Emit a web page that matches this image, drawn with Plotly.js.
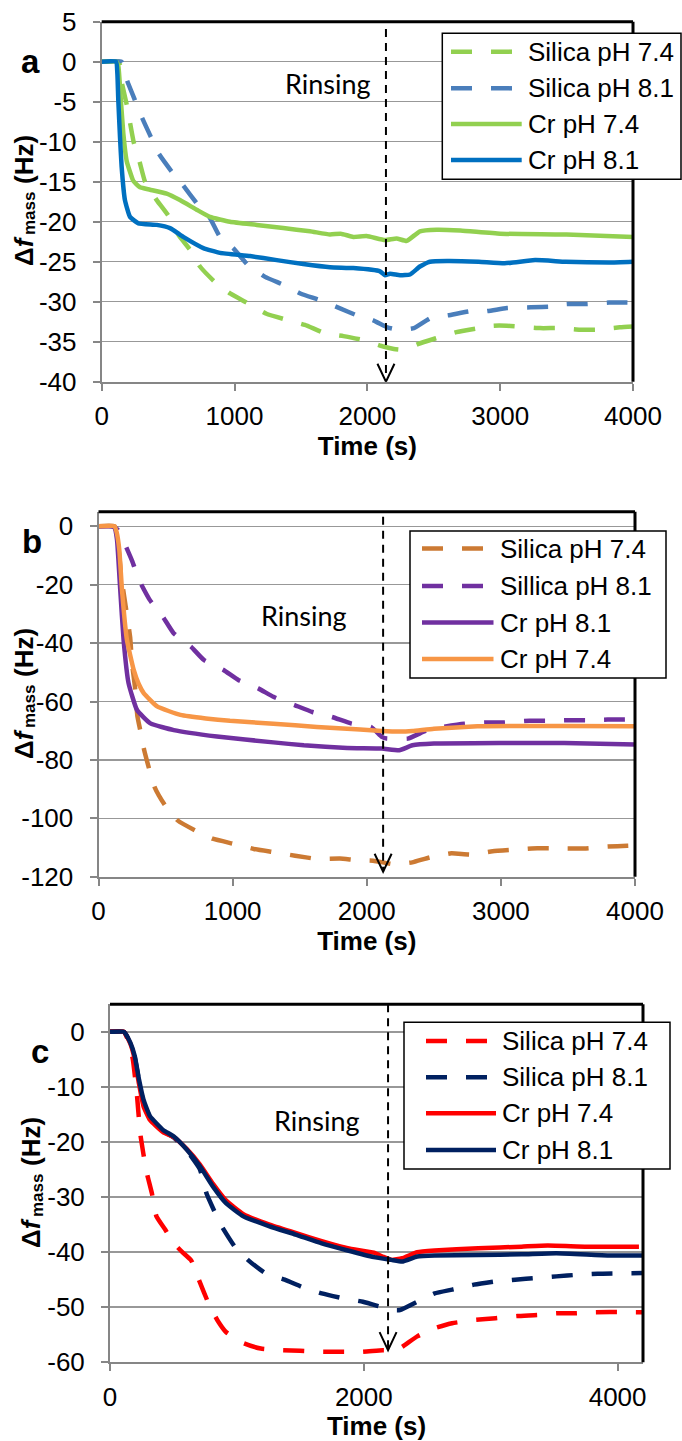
<!DOCTYPE html>
<html><head><meta charset="utf-8">
<script src="https://cdn.plot.ly/plotly-3.0.1.min.js"></script>
<style>html,body{margin:0;padding:0;background:#fff}#chart{width:682px;height:1441px}</style>
</head><body><div id="chart"></div>
<script>
// ---------- Panel a ----------
const aSilica74X = [0,130,150,190,240,285,326,370,414,500,580,665,740,850,970,1100,1240,1400,1530,1690,1820,1970,2120,2200,2280,2380,2510,2670,2840,2950,3050,3300,3450,3600,3720,3900,4000];
const aSilica74Y = [0,0,-2.5,-5.5,-10,-12.5,-15,-16.2,-17.3,-19.2,-21.7,-23.5,-25.6,-27.5,-29.0,-30.2,-31.5,-32.3,-32.9,-34.0,-34.3,-34.8,-35.6,-35.9,-36.0,-35.3,-34.6,-33.8,-33.3,-33.0,-33.0,-33.3,-33.3,-33.5,-33.5,-33.2,-33.1];
const aSilica81X = [0,150,190,250,290,370,430,530,610,730,810,890,990,1100,1230,1370,1500,1640,1790,1920,2040,2150,2200,2260,2350,2480,2610,2770,2890,3050,3230,3400,3500,3650,3820,4000];
const aSilica81Y = [0,0,-2.3,-4.8,-6.5,-9.4,-11.5,-13.8,-15.4,-18,-19.4,-21.9,-23.3,-25.4,-26.9,-27.9,-29,-29.8,-30.8,-31.7,-32.3,-33.2,-33.4,-33.5,-33.3,-32,-31.7,-31.2,-31.2,-30.8,-30.7,-30.6,-30.3,-30.3,-30.1,-30.1];
const aCr74X = [0,110,125,145,163,188,238,288,364,489,589,715,815,966,1167,1367,1568,1719,1800,1894,1994,2133,2220,2296,2396,2521,2700,3000,3500,4000];
const aCr74Y = [0,0,-0.5,-5,-9,-12.4,-14.9,-15.7,-16.0,-16.5,-17.3,-18.5,-19.4,-20.0,-20.4,-20.8,-21.2,-21.6,-21.5,-21.9,-21.8,-22.3,-22.1,-22.4,-21.2,-21.0,-21.1,-21.5,-21.6,-21.9];
const aCr81X = [0,108,118,125,138,150,175,213,276,414,514,614,765,891,1117,1318,1518,1719,1894,2095,2133,2171,2246,2321,2396,2471,2600,2838,3034,3263,3492,3820,4000];
const aCr81Y = [0,0,-1.5,-4.8,-9.5,-13.1,-17.3,-19.4,-20.2,-20.4,-20.8,-21.9,-23.3,-23.9,-24.3,-24.8,-25.3,-25.7,-25.8,-26.2,-26.7,-26.5,-26.7,-26.6,-25.6,-25.0,-24.9,-25.0,-25.2,-24.8,-25.0,-25.1,-25.0];
const aNames = ['Silica pH 7.4','Silica pH 8.1','Cr pH 7.4','Cr pH 8.1'];
const aYTicks = [5,0,-5,-10,-15,-20,-25,-30,-35,-40];
const aXTicks = [0,1000,2000,3000,4000];

// ---------- Panel b ----------
const bSilica74X = [0,120,172,236,250,272,290,312,340,380,420,495,592,722,851,1013,1158,1304,1466,1628,1800,1919,2048,2194,2250,2340,2469,2631,2776,2938,3084,3230,3375,3634,3796,3942,4000];
const bSilica74Y = [0,0,-18,-38,-47,-55,-65,-70,-76.5,-83.5,-89.5,-95.5,-100.8,-104.2,-107,-108.8,-110.5,-111.6,-112.8,-113.9,-113.8,-114.3,-114.5,-115.7,-115.6,-115.1,-113.4,-112,-112.4,-111.3,-110.8,-110.3,-110.3,-110.3,-109.7,-109.4,-109.3];
const bSilica81X = [0,100,140,188,252,301,382,479,560,689,786,932,1045,1191,1304,1466,1595,1741,1887,2032,2113,2150,2210,2307,2453,2566,2728,2890,3019,3213,3343,3505,3634,3796,4000];
const bSilica81Y = [0,0,-1,-5.2,-12,-18.3,-25.2,-30.9,-36.6,-41.2,-45.8,-49.2,-52.7,-55.5,-58.4,-61.3,-63.6,-65.3,-67.6,-68.7,-72.1,-72.7,-72.7,-72.7,-69.8,-68.7,-67.6,-67.2,-67.2,-66.6,-66.6,-66.4,-66.4,-66.2,-66.1];
const bCr81X = [0,100,120,138,162,187,224,287,387,561,883,1304,1531,1854,2113,2243,2340,2501,2987,3472,4000];
const bCr81Y = [0,0,-0.5,-4.6,-21.7,-38.9,-53.7,-62.9,-67.5,-69.8,-72.0,-74.0,-75,-75.9,-76.1,-76.7,-75,-74.4,-74.2,-74.2,-74.7];
const bCr74X = [0,120,135,155,175,212,262,300,337,437,611,800,980,1304,1628,1951,2113,2250,2340,2501,2825,3149,3472,4000];
const bCr74Y = [0,0,-2,-8,-21.7,-38.9,-49.1,-54,-57.1,-61.7,-64.6,-65.8,-66.6,-67.6,-68.7,-69.6,-70.1,-70.3,-70.1,-69.3,-68.5,-68.4,-68.4,-68.5];
const bNames = ['Silica pH 7.4','Sillica pH 8.1','Cr pH 8.1','Cr pH 7.4'];
const bYTicks = [0,-20,-40,-60,-80,-100,-120];
const bXTicks = [0,1000,2000,3000,4000];

// ---------- Panel c ----------
const cSilica74X = [0,110,150,180,211,238,262,290,330,366,435,503,570,640,700,780,850,914,1051,1188,1360,1497,1668,1839,1976,2148,2250,2302,2421,2558,2696,2884,3038,3209,3380,3517,3654,3826,4200];
const cSilica74Y = [0,0,-2,-5,-11.1,-18.4,-22,-25.6,-29.3,-33.5,-35.9,-38.4,-40,-41.5,-45,-49.5,-52.5,-54.5,-56.5,-57.5,-57.8,-57.9,-58.1,-58.1,-58.1,-57.8,-57.8,-57.2,-55.3,-53.8,-52.9,-52.3,-52.0,-51.6,-51.4,-51.1,-51.1,-50.9,-50.9];
const cSilica81X = [0,110,161,195,229,264,315,418,503,606,709,760,829,880,983,1086,1223,1377,1531,1668,1839,1993,2130,2220,2285,2421,2558,2696,2867,3038,3192,3363,3517,3689,3843,4200];
const cSilica81Y = [0,0,-2,-4.6,-9,-12.8,-15.5,-18,-19.2,-21.6,-25,-29.3,-32.9,-35.3,-39,-41.4,-43.8,-45,-46.5,-47.5,-48.4,-49,-49.9,-50.5,-50.5,-49,-47.5,-46.8,-45.9,-45.3,-45,-44.7,-44.4,-44.1,-43.9,-43.8];
const cCr74X = [0,110,161,195,229,264,315,418,503,606,709,812,914,1051,1257,1462,1668,1873,2079,2148,2216,2302,2421,2558,2901,3243,3449,3757,4168];
const cCr74Y = [0,0,-2.2,-5,-9.5,-13.5,-16,-18.2,-19.1,-21.3,-24.1,-27.6,-30.6,-33.1,-35,-36.5,-38,-39.3,-40.1,-40.8,-41.4,-41.1,-40,-39.7,-39.3,-39,-38.8,-39,-39];
const cCr81X = [0,110,161,195,229,264,315,418,503,606,709,812,914,1051,1257,1462,1668,1873,2079,2216,2302,2421,2558,2901,3243,3517,3928,4200];
const cCr81Y = [0,0,-2,-4.4,-8.7,-12.3,-15.3,-17.8,-19,-21.4,-24.4,-28.1,-31.1,-33.5,-35.3,-36.8,-38.4,-39.7,-40.9,-41.4,-41.7,-40.8,-40.6,-40.5,-40.4,-40.2,-40.6,-40.6];
const cNames = ['Silica pH 7.4','Silica pH 8.1','Cr pH 7.4','Cr pH 8.1'];
const cYTicks = [0,-10,-20,-30,-40,-50,-60];
const cXTicks = [0,2000,4000];

const panelLetters = ['a','b','c'];
const rinseTimes = [2140, 2122, 2191];
const rinseLabel = 'Rinsing';
const xTitle = 'Time (s)';
const yTitleParts = ['Δ<i>f</i>', 'mass', '(Hz)'];

// ---------- styling ----------
const W = 682, H = 1441;
const FONT = 'Liberation Sans, Arial, sans-serif';
const px = v => v / W, py = v => 1 - v / H;
const DASH = '21px,19px';

const colA = ['#92D050', '#4A7EBB', '#92D050', '#0070C0'];
const colB = ['#CC7A33', '#7030A0', '#7030A0', '#F79646'];
const colC = ['#FF0000', '#002060', '#FF0000', '#002060'];
const dashes = [true, true, false, false];

function tr(x, y, color, dashed, n, name) {
  return {x: x, y: y, type: 'scatter', mode: 'lines', name: name, showlegend: false,
    xaxis: 'x' + (n === 1 ? '' : n), yaxis: 'y' + (n === 1 ? '' : n), hoverinfo: 'skip',
    line: {color: color, width: 4.5, dash: dashed ? DASH : 'solid', shape: 'spline', smoothing: 0.4}};
}
const data = [
  tr(aSilica74X, aSilica74Y, colA[0], true, 1, aNames[0]),
  tr(aSilica81X, aSilica81Y, colA[1], true, 1, aNames[1]),
  tr(aCr74X, aCr74Y, colA[2], false, 1, aNames[2]),
  tr(aCr81X, aCr81Y, colA[3], false, 1, aNames[3]),
  tr(bSilica74X, bSilica74Y, colB[0], true, 2, bNames[0]),
  tr(bSilica81X, bSilica81Y, colB[1], true, 2, bNames[1]),
  tr(bCr81X, bCr81Y, colB[2], false, 2, bNames[2]),
  tr(bCr74X, bCr74Y, colB[3], false, 2, bNames[3]),
  tr(cSilica74X, cSilica74Y, colC[0], true, 3, cNames[0]),
  tr(cSilica81X, cSilica81Y, colC[1], true, 3, cNames[1]),
  tr(cCr74X, cCr74Y, colC[2], false, 3, cNames[2]),
  tr(cCr81X, cCr81Y, colC[3], false, 3, cNames[3])
];

// pixel geometry of the three plot areas [left, right, top, bottom]
const geo = [[101.7, 633, 21.7, 381.7], [98.5, 635, 511.7, 876.7], [110, 643, 1004.3, 1362.3]];
const xr = [[0, 4000], [0, 4000], [0, 4200]];
const yr = [[-40, 5], [-120, 5], [-60, 5]];
const xt = [aXTicks, bXTicks, cXTicks];
const yt = [aYTicks, bYTicks, cYTicks];
const xTitleStandoff = [1, 0, 1];

const GRAY = '#868686';
const layout = {width: W, height: H, margin: {l: 0, r: 0, t: 0, b: 0}, paper_bgcolor: '#fff', plot_bgcolor: '#fff',
  showlegend: false, font: {family: FONT, color: '#000'}, shapes: [], annotations: []};

for (let i = 0; i < 3; i++) {
  const g = geo[i], s = i === 0 ? '' : String(i + 1);
  layout['xaxis' + s] = {domain: [px(g[0]), px(g[1])], anchor: 'y' + s, range: xr[i],
    tickmode: 'array', tickvals: xt[i], ticktext: xt[i].map(String),
    showgrid: false, zeroline: false, showline: true, linecolor: GRAY, linewidth: 2,
    ticks: 'outside', ticklen: 7, tickwidth: 2, tickcolor: GRAY, ticklabelstandoff: 3,
    tickfont: {size: 26, family: FONT, color: '#000'}, fixedrange: true,
    title: {text: '<b>' + xTitle + '</b>', font: {size: 26, family: FONT, color: '#000'}, standoff: xTitleStandoff[i]}};
  layout['yaxis' + s] = {domain: [py(g[3]), py(g[2])], anchor: 'x' + s, range: yr[i],
    tickmode: 'array', tickvals: yt[i], ticktext: yt[i].map(String),
    showgrid: true, gridcolor: '#989898', gridwidth: 1.5, zeroline: false, showline: true, linecolor: GRAY, linewidth: 2,
    ticks: 'outside', ticklen: 7, tickwidth: 2, tickcolor: GRAY, ticklabelstandoff: 11,
    tickfont: {size: 26, family: FONT, color: '#000'}, fixedrange: true};
  // black plot border (top, right)
  layout.shapes.push({type: 'line', xref: 'x' + s + ' domain', yref: 'y' + s + ' domain', x0: 0, x1: 1, y0: 1, y1: 1, line: {color: '#000', width: 3}, layer: 'above'});
  layout.shapes.push({type: 'line', xref: 'x' + s + ' domain', yref: 'y' + s + ' domain', x0: 1, x1: 1, y0: 0, y1: 1, line: {color: '#000', width: 3}, layer: 'above'});
}

// rinsing arrows
const rinseTop = [4.1, 3.3, 5];
const rinseTip = [-40, -118.3, -57.8];
for (let i = 0; i < 3; i++) {
  const s = i === 0 ? '' : String(i + 1);
  layout.shapes.push({type: 'line', xref: 'x' + s, yref: 'y' + s, x0: rinseTimes[i], x1: rinseTimes[i], y0: rinseTop[i], y1: rinseTip[i],
    line: {color: '#000', width: 2, dash: '8px,6px'}, layer: 'above'});
  layout.shapes.push({type: 'path', xref: 'x' + s, yref: 'y' + s, xsizemode: 'pixel', ysizemode: 'pixel',
    xanchor: rinseTimes[i], yanchor: rinseTip[i], path: 'M-8.5,18L0,0L8.5,18', line: {color: '#000', width: 2}, layer: 'above'});
}

// Rinsing labels, panel letters, y-axis titles (Δf, subscript "mass", (Hz))
const rinsePos = [[328, 83], [303.5, 615], [317, 1120]];
const letterPos = [[30, 61], [32, 541], [40, 1051]];
const yTitleCenter = [[24, 202], [24, 695], [31, 1184]];
const ann = (x, y, text, size, extra) => Object.assign({xref: 'paper', yref: 'paper', x: px(x), y: py(y), text: text,
  showarrow: false, xanchor: 'center', yanchor: 'middle', font: {family: FONT, size: size, color: '#000'}}, extra || {});
for (let i = 0; i < 3; i++) {
  layout.annotations.push(ann(rinsePos[i][0], rinsePos[i][1], rinseLabel, 27, {font: {family: 'Lato, Carlito, sans-serif', size: 27, color: '#000'}}));
  layout.annotations.push(ann(letterPos[i][0], letterPos[i][1], '<b>' + panelLetters[i] + '</b>', 33));
  const [cx, cy] = yTitleCenter[i];
  layout.annotations.push(ann(cx, cy + 49, '<b>' + yTitleParts[0] + '</b>', 26, {textangle: -90}));
  layout.annotations.push(ann(cx + 6, cy + 12, '<b>' + yTitleParts[1] + '</b>', 17, {textangle: -90}));
  layout.annotations.push(ann(cx, cy - 42, '<b>' + yTitleParts[2] + '</b>', 26, {textangle: -90}));
}

// legends drawn as boxes + sample lines + text
const legends = [
  {box: [442.3, 681, 33.3, 179.3], sample: [451, 521.7], tx: 526, rows: [51.7, 88.3, 124, 160], names: aNames, cols: colA},
  {box: [410, 666, 531, 678], sample: [422, 493.5], tx: 498, rows: [548.5, 586, 622.5, 659], names: bNames, cols: colB},
  {box: [404, 670, 1022.3, 1169], sample: [426, 496], tx: 500, rows: [1041, 1077.3, 1113.3, 1150], names: cNames, cols: colC}
];
legends.forEach(L => {
  layout.shapes.push({type: 'rect', xref: 'paper', yref: 'paper', x0: px(L.box[0]), x1: px(L.box[1]), y0: py(L.box[2]), y1: py(L.box[3]),
    line: {color: '#000', width: 1.5}, fillcolor: '#fff', layer: 'above'});
  for (let k = 0; k < 4; k++) {
    layout.shapes.push({type: 'line', xref: 'paper', yref: 'paper', x0: px(L.sample[0]), x1: px(L.sample[1]), y0: py(L.rows[k]), y1: py(L.rows[k]),
      line: {color: L.cols[k], width: 4.5, dash: dashes[k] ? DASH : 'solid'}, layer: 'above'});
    layout.annotations.push(ann(L.tx, L.rows[k], L.names[k], 26, {xanchor: 'left'}));
  }
});

Plotly.newPlot('chart', data, layout, {staticPlot: true, displayModeBar: false});
</script></body></html>
